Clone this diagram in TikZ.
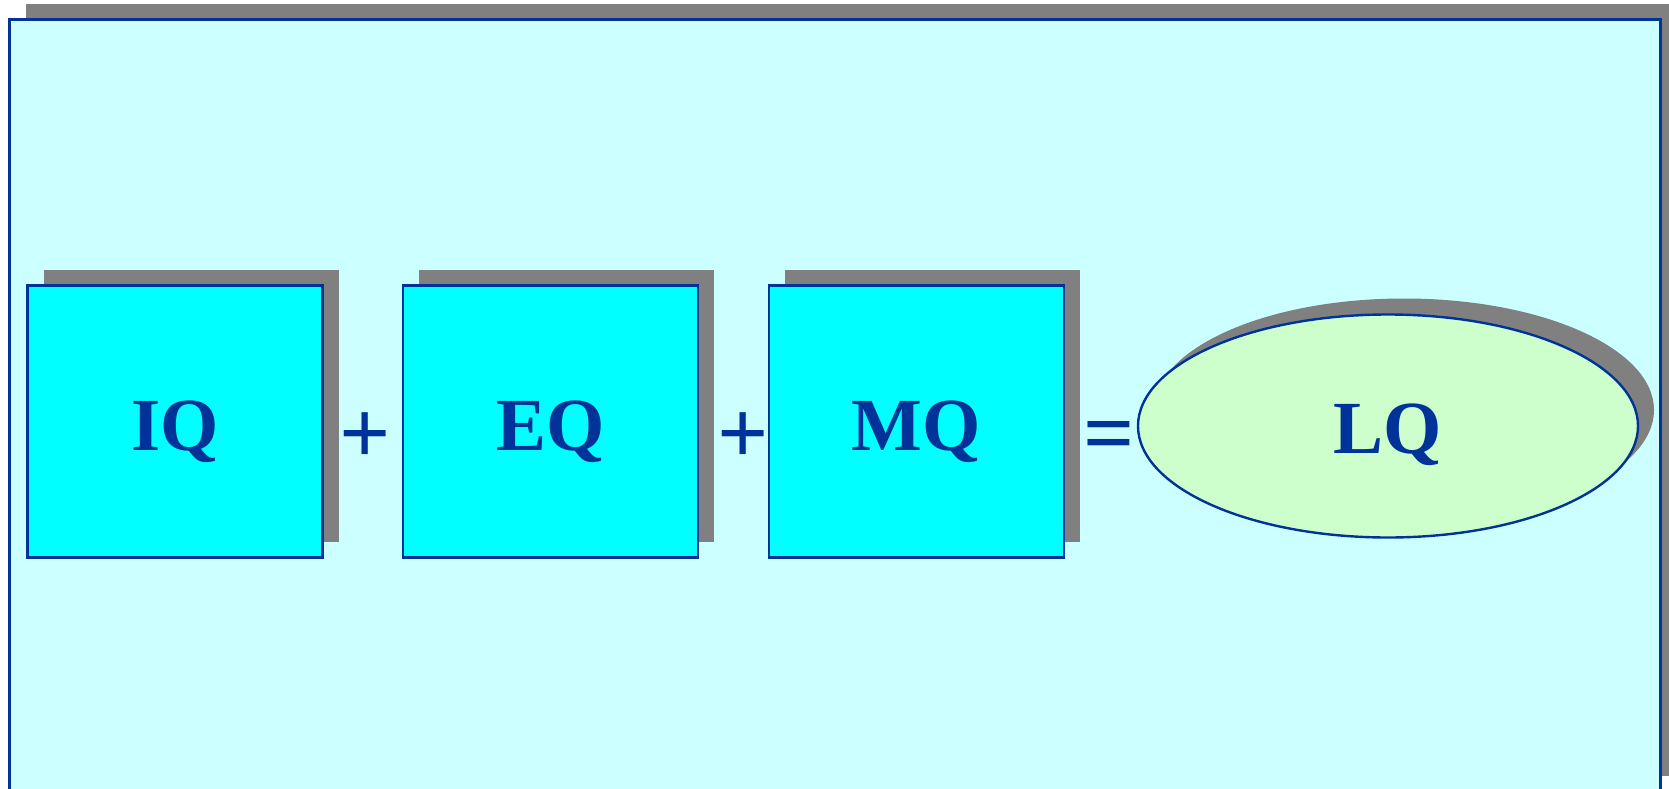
\documentclass[tikz,border=0pt]{standalone}
\usepackage{fontspec}
\setmainfont{Liberation Serif}
\usetikzlibrary{shapes.geometric,shadows}

\definecolor{lqblue}{HTML}{003399}
\definecolor{palecyan}{HTML}{CCFFFF}
\definecolor{qcyan}{HTML}{00FFFF}
\definecolor{palegreen}{HTML}{CCFFCC}
\definecolor{shadegray}{HTML}{808080}

\begin{document}
\begin{tikzpicture}[x=1pt,y=-1pt,
  qtext/.style={text=lqblue,font=\fontsize{75}{80}\selectfont\bfseries},
  qshadow/.style={drop shadow={shadow xshift=16pt,shadow yshift=16pt,opacity=1,fill=shadegray}},
  frame/.style={rectangle,draw=lqblue,line width=2.7pt,fill=palecyan,minimum width=1651pt,minimum height=772pt,inner sep=0pt,qshadow},
  qbox/.style={rectangle,draw=lqblue,line width=2.7pt,fill=qcyan,minimum width=295pt,minimum height=272pt,inner sep=0pt,qshadow,qtext,text height=57pt,text depth=0pt},
  qoval/.style={ellipse,draw=lqblue,line width=2.4pt,fill=palegreen,minimum width=500pt,minimum height=223pt,inner sep=0pt,qshadow,qtext,text height=55pt,text depth=0pt},
  qop/.style={text=lqblue,font=\fontsize{90}{94}\selectfont\bfseries,inner sep=0pt,anchor=base}]
\useasboundingbox (0,0) rectangle (1669,789);
\clip (0,0) rectangle (1669,789);
% background frame
\node[frame] (frame) at (835.3,405.8) {};
% the three quotients
\node[qbox] (iq) at (175,421.6) {IQ};
\node[qbox] (eq) at (550.5,421.6) {EQ};
\node[qbox] (mq) at (916.5,421.6) {MQ};
% result
\node[qoval] (lq) at (1388,426) {LQ};
% operators
\node[qop] (plusa) at (365,463) {+};
\node[qop] (plusb) at (743,463) {+};
\node[qop] (equal) at (1109.5,463) {=};
\end{tikzpicture}
\end{document}
